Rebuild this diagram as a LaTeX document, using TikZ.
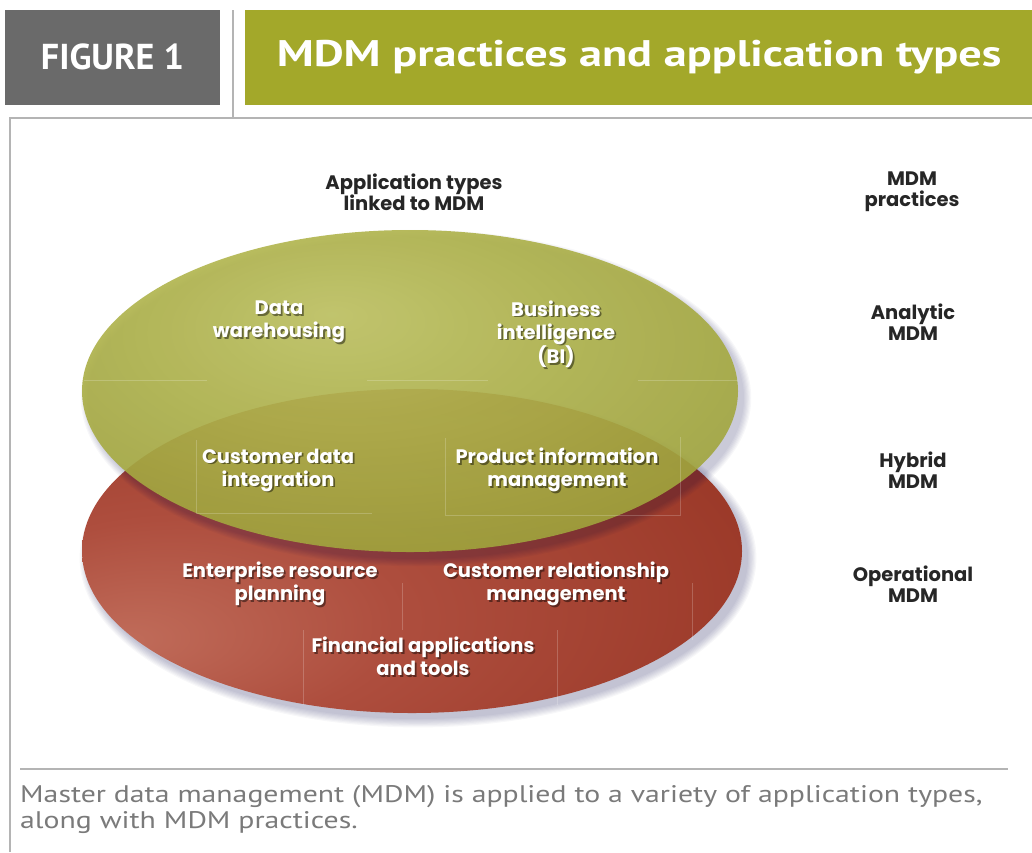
\documentclass[tikz,border=0pt]{standalone}
\usepackage{fontspec}
\setmainfont{Poppins}
\newfontfamily\capfont{PT Sans}
\newfontfamily\headfont{PT Sans}
\definecolor{hdgray}{HTML}{6A6A6A}
\definecolor{hdgreen}{HTML}{A3A82A}
\definecolor{framegray}{HTML}{B4B4B4}
\definecolor{capgray}{HTML}{7A7A7A}
\definecolor{gA}{HTML}{C0C462}
\definecolor{gB}{HTML}{B2B64E}
\definecolor{gC}{HTML}{979B32}
\definecolor{gD}{HTML}{7C8024}
\definecolor{rA}{HTML}{C06C5A}
\definecolor{rB}{HTML}{AE4E3E}
\definecolor{rC}{HTML}{93301F}
\definecolor{rD}{HTML}{7E2418}
\pgfdeclareradialshading{greenball}{\pgfpoint{-6bp}{12bp}}{color(0bp)=(gA); color(14bp)=(gB); color(42bp)=(gC); color(62bp)=(gD)}
\pgfdeclareradialshading{redball}{\pgfpoint{-22bp}{-14bp}}{color(0bp)=(rA); color(16bp)=(rB); color(48bp)=(rC); color(75bp)=(rD)}
\newcommand\wlabel[3]{%
  \node[inlbl,text=black,opacity=0.45,xshift=1.8pt,yshift=-1.8pt] at (#2) {#3};
  \node[inlbl] (#1) at (#2) {#3};}
\begin{document}
\begin{tikzpicture}[x=1pt,y=-1pt,
  lbl/.style={font=\bfseries\fontsize{19.5}{21}\selectfont, text=black!85, align=center, inner sep=0pt},
  inlbl/.style={font=\bfseries\fontsize{19.5}{23}\selectfont, text=white, align=center, inner sep=0pt},
  faint/.style={draw=white, opacity=0.2, line width=0.8pt},
  frame/.style={draw=framegray, line width=1.6pt}]
\useasboundingbox (0,0) rectangle (1032,852);
\fill[white] (0,0) rectangle (1032,852);
% header
\fill[hdgray] (5,10) rectangle (220,105);
\node[font=\headfont\bfseries\fontsize{36}{40}\selectfont, text=white, inner sep=0pt] (fig) at (112.5,57) {FIGURE 1};
\fill[hdgreen] (245,10) rectangle (1032,105);
\node[font=\headfont\bfseries\fontsize{37}{40}\selectfont, text=white, inner sep=0pt] (title) at (639,57) {\scalebox{1.25}[1]{MDM practices and application types}};
\draw[frame] (233,10) -- (233,118);
\draw[frame] (10,852) -- (10,118) -- (1032,118);
% column labels
\node[lbl] (apptypes) at (414,192) {Application types\\linked to MDM};
\node[lbl] (practices) at (912,192) {MDM\\practices};
\node[lbl] (analytic) at (913,322) {Analytic\\MDM};
\node[lbl] (hybrid) at (913,470) {Hybrid\\MDM};
\node[lbl] (operational) at (913,584) {Operational\\MDM};
% red ellipse shadow
\foreach \i in {0,2,...,14}{
  \fill[black!70!blue, opacity=0.03] (418,558) ellipse ({330+\i*0.6} and {161+\i*0.6});
}
\shade[shading=redball] (412,551) ellipse (330 and 162);
% green ellipse shadow
\foreach \i in {0,2,...,12}{
  \fill[black!70!blue, opacity=0.03] (416,398) ellipse ({328+\i*0.6} and {161+\i*0.6});
}
\shade[fill opacity=0.9, shading=greenball] (410,391) ellipse (328 and 161);
% faint grid lines
\draw[faint] (84,380) -- (207,380);
\draw[faint] (367,380) -- (488,380);
\draw[faint] (638,380) -- (738,380);
\draw[faint] (196,440) -- (196,513) -- (372,513);
\draw[faint] (445,438) -- (445,515) -- (680,515) -- (680,437);
\draw[faint] (402,583) -- (402,630);
\draw[faint] (303,630) -- (303,705);
\draw[faint] (557,630) -- (557,705);
\draw[faint] (692,583) -- (692,640);
% inside labels
\wlabel{dw}{279,322}{Data\\warehousing}
\wlabel{bi}{556,334}{Business\\intelligence\\(BI)}
\wlabel{cdi}{278,470}{Customer data\\integration}
\wlabel{pim}{557,470}{Product information\\management}
\wlabel{erp}{280,584}{Enterprise resource\\planning}
\wlabel{crm}{556,584}{Customer relationship\\management}
\wlabel{fin}{423,656}{Financial applications\\and tools}
% caption
\draw[draw=framegray, line width=1.2pt] (20,769) -- (1008,769);
\node[font=\capfont\fontsize{24}{26}\selectfont, text=capgray, anchor=west, inner sep=0pt] (cap1) at (20,797) {\scalebox{1.24}[1]{Master data management (MDM) is applied to a variety of application types,}};
\node[font=\capfont\fontsize{24}{26}\selectfont, text=capgray, anchor=west, inner sep=0pt] (cap2) at (20,823) {\scalebox{1.24}[1]{along with MDM practices.}};
\end{tikzpicture}
\end{document}
